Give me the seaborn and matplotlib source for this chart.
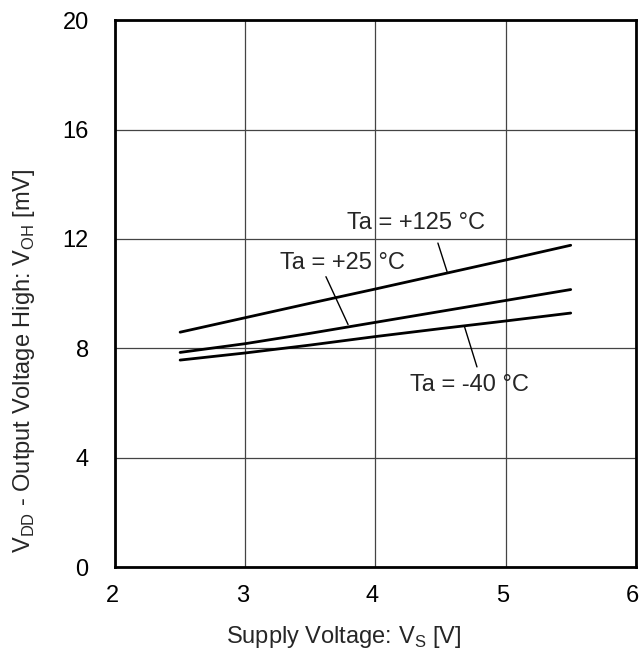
import pandas as pd
import matplotlib
matplotlib.use("Agg")
import matplotlib.pyplot as plt
import matplotlib.transforms as mtransforms
import seaborn as sns

# Данные
supply_v = [2.5, 3.0, 3.5, 4.0, 4.5, 5.0, 5.5]
voh_125 = [8.59, 9.12, 9.65, 10.17, 10.70, 11.23, 11.77]
voh_25 = [7.85, 8.17, 8.55, 8.95, 9.35, 9.75, 10.15]
voh_m40 = [7.57, 7.83, 8.12, 8.43, 8.72, 9.00, 9.29]
series_names = ["Ta = +125 °C", "Ta = +25 °C", "Ta = -40 °C"]

x_ticks = [2, 3, 4, 5, 6]
y_ticks = [0, 4, 8, 12, 16, 20]

FS = 17

sns.set_theme(style="white")
plt.rcParams["font.family"] = ["Liberation Sans", "DejaVu Sans"]
plt.rcParams["font.size"] = FS

df = pd.DataFrame({
    "Vs": supply_v * 3,
    "Voh": voh_125 + voh_25 + voh_m40,
    "Ta": [series_names[0]] * 7 + [series_names[1]] * 7 + [series_names[2]] * 7,
})

fig = plt.figure(figsize=(6.39, 6.54), dpi=100)
ax = fig.add_axes([0.180, 0.133, 0.815, 0.836])

sns.lineplot(data=df, x="Vs", y="Voh", hue="Ta",
             palette=["black", "black", "black"], linewidth=2,
             legend=False, ax=ax)

ax.set_xlim(2, 6)
ax.set_ylim(0, 20)
ax.set_xticks(x_ticks)
ax.set_yticks(y_ticks)
ax.grid(True, color="#444444", linewidth=0.9)
ax.set_axisbelow(True)
for s in ax.spines.values():
    s.set_color("black")
    s.set_linewidth(2)
ax.tick_params(length=0, labelsize=FS, colors="black")
ax.tick_params(axis="x", pad=13)
ax.tick_params(axis="y", pad=19)

# чуть сдвигаем подписи оси X влево, как в оригинале
shift = mtransforms.ScaledTranslation(-3 / 100, 0, fig.dpi_scale_trans)
for lbl in ax.get_xticklabels():
    lbl.set_transform(lbl.get_transform() + shift)

ax.set_xlabel(r"Supply Voltage: V$_\mathregular{S}$ [V]", fontsize=FS)
ax.set_ylabel(r"V$_\mathregular{DD}$ - Output Voltage High: V$_\mathregular{OH}$ [mV]",
              fontsize=FS)
# подписи осей в оригинале не по центру осей
ax.xaxis.set_label_coords(0.4386, -0.105)
ax.yaxis.set_label_coords(-0.150, 0.378)

# Подписи кривых с выносными линиями
ax.text(4.31, 12.59, series_names[0], fontsize=FS, ha="center", va="center")
ax.plot([4.48, 4.55], [11.85, 10.81], color="black", linewidth=1)
ax.text(3.75, 11.11, series_names[1], fontsize=FS, ha="center", va="center")
ax.plot([3.62, 3.79], [10.62, 8.87], color="black", linewidth=1)
ax.text(4.72, 6.65, series_names[2], fontsize=FS, ha="center", va="center")
ax.plot([4.685, 4.78], [8.78, 7.32], color="black", linewidth=1)

fig.savefig("out.png", dpi=100)
plt.close()
